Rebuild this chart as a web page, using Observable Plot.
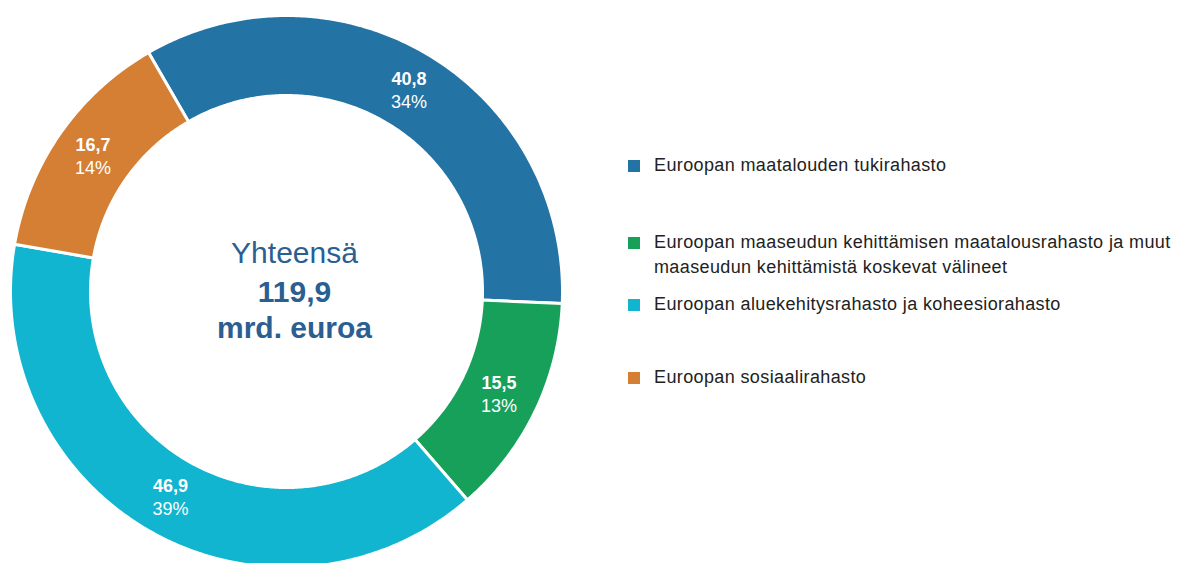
<!DOCTYPE html>
<html>
<head>
<meta charset="utf-8">
<script src="https://cdn.jsdelivr.net/npm/d3@7"></script>
<script src="https://cdn.jsdelivr.net/npm/@observablehq/plot@0.6"></script>
<style>
  html, body { margin: 0; padding: 0; background: #fff; }
  #wrap { position: relative; width: 1177px; height: 563px; overflow: hidden; font-family: "Liberation Sans", Arial, sans-serif; }
  #chart svg { display: block; }
  #legend { position: absolute; left: 628px; top: 0; width: 549px; }
  .item { position: absolute; left: 0; display: flex; align-items: flex-start; font-size: 18px; letter-spacing: 0.38px; line-height: 25px; color: #222; white-space: nowrap; }
  .sw { width: 12px; height: 12px; margin-top: 7px; margin-right: 14px; flex: none; }
</style>
</head>
<body>
<div id="wrap">
  <div id="chart"></div>
  <div id="legend"></div>
</div>
<script>
// Data
const categories = [
  "Euroopan maatalouden tukirahasto",
  "Euroopan maaseudun kehittämisen maatalousrahasto ja muut maaseudun kehittämistä koskevat välineet",
  "Euroopan aluekehitysrahasto ja koheesiorahasto",
  "Euroopan sosiaalirahasto"
];
const legendLines = [
  ["Euroopan maatalouden tukirahasto"],
  ["Euroopan maaseudun kehittämisen maatalousrahasto ja muut", "maaseudun kehittämistä koskevat välineet"],
  ["Euroopan aluekehitysrahasto ja koheesiorahasto"],
  ["Euroopan sosiaalirahasto"]
];
const values = [40.8, 15.5, 46.9, 16.7];
const colors = ["#2373a5", "#17a05a", "#11b5cf", "#d47f33"];
const centerTitle = "Yhteensä";
const unitLabel = "mrd. euroa";

// Layout constants
const W = 1177, H = 563;
const cx = 286, cy = 291, R = 276, r0 = 196;
const startDeg = -30;

const total = d3.sum(values);
const fmt = v => v.toFixed(1).replace(".", ",");

// Build slice polygons (unit: outer radius = 1)
const inner = r0 / R;
const polys = [];
const labels = [];
let acc = 0;
values.forEach((v, i) => {
  const a0 = (startDeg * Math.PI / 180) + acc / total * 2 * Math.PI;
  acc += v;
  const a1 = (startDeg * Math.PI / 180) + acc / total * 2 * Math.PI;
  const n = Math.max(8, Math.ceil((a1 - a0) / 0.01));
  for (let k = 0; k <= n; k++) {
    const a = a0 + (a1 - a0) * k / n;
    polys.push({cat: categories[i], x: Math.sin(a), y: Math.cos(a)});
  }
  for (let k = n; k >= 0; k--) {
    const a = a0 + (a1 - a0) * k / n;
    polys.push({cat: categories[i], x: inner * Math.sin(a), y: inner * Math.cos(a)});
  }
  const am = (a0 + a1) / 2, rm = (1 + inner) / 2;
  labels.push({
    cat: categories[i],
    x: rm * Math.sin(am), y: rm * Math.cos(am),
    val: fmt(v), pct: Math.round(v / total * 100) + "%"
  });
});

const center = [{x: 0, y: 0}];

const plot = Plot.plot({
  width: W, height: H,
  margin: 0,
  style: {fontFamily: '"Liberation Sans", Arial, sans-serif', background: "white"},
  x: {domain: [-cx / R, (W - cx) / R], range: [0, W], axis: null},
  y: {domain: [(cy - H) / R, cy / R], range: [H, 0], axis: null},
  color: {domain: categories, range: colors},
  marks: [
    Plot.line(polys, {x: "x", y: "y", z: "cat", fill: "cat", stroke: "white", strokeWidth: 3, curve: "linear-closed"}),
    Plot.text(labels, {x: "x", y: "y", text: "val", fill: "white", fontSize: 18, fontWeight: "bold", dy: -11, letterSpacing: 0.5}),
    Plot.text(labels, {x: "x", y: "y", text: "pct", fill: "white", fontSize: 18, dy: 12, letterSpacing: 0.8}),
    Plot.text(center, {x: "x", y: "y", text: () => centerTitle, fill: "#2b5f91", fontSize: 30, dx: 8, dy: -38, letterSpacing: 0.6}),
    Plot.text(center, {x: "x", y: "y", text: () => fmt(total), fill: "#2b5f91", fontSize: 30, fontWeight: "bold", dx: 8, dy: 1, letterSpacing: 0.5}),
    Plot.text(center, {x: "x", y: "y", text: () => unitLabel, fill: "#2b5f91", fontSize: 30, fontWeight: "bold", dx: 8, dy: 37, letterSpacing: 0.5})
  ]
});
document.getElementById("chart").appendChild(plot);

// Legend (HTML)
const legendTops = [153, 230, 292, 365];
const legend = document.getElementById("legend");
categories.forEach((c, i) => {
  const it = document.createElement("div");
  it.className = "item";
  it.style.top = legendTops[i] + "px";
  const sw = document.createElement("div");
  sw.className = "sw";
  sw.style.background = colors[i];
  const t = document.createElement("div");
  t.innerHTML = legendLines[i].map(s => s.replace(/&/g, "&amp;").replace(/</g, "&lt;")).join("<br>");
  it.appendChild(sw);
  it.appendChild(t);
  legend.appendChild(it);
});
</script>
</body>
</html>
